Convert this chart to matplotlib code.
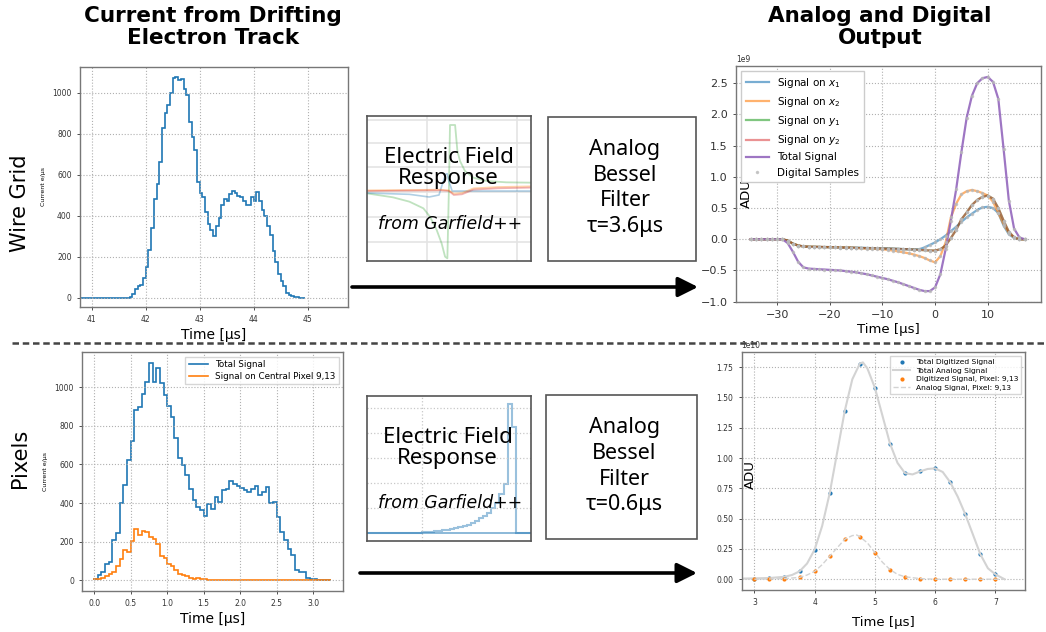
import numpy as np
import matplotlib.pyplot as plt
from matplotlib.patches import FancyArrowPatch, Rectangle
from matplotlib.lines import Line2D

W, H = 1046, 632

# ---- wire grid: current from the drifting electron track (0.05 us bins) ----
wire_start = 40.5
wire_t0 = 41.70
wire_bin = 0.05
wire_current = [0, 5, 20, 45, 55, 60, 95, 150, 235, 340, 480, 555, 660, 830, 900, 940,
                1000, 1070, 1075, 1060, 1065, 1020, 990, 855, 785, 720, 565, 510, 490,
                420, 360, 330, 300, 350, 390, 450, 480, 470, 505, 520, 510, 495, 490,
                470, 450, 450, 490, 470, 515, 470, 430, 400, 350, 305, 230, 175, 115,
                80, 55, 25, 15, 10, 5, 3, 1, 0]

# ---- pixels: current from the same track (0.05 us bins from t=0) ----
pix_bin = 0.05
pix_total = [5, 25, 45, 85, 95, 210, 245, 400, 495, 625,
             720, 880, 900, 965, 1025, 1125, 1025, 1100, 1020, 960,
             905, 845, 735, 635, 595, 545, 475, 415, 380, 365,
             335, 395, 370, 430, 405, 465, 470, 515, 500, 490,
             480, 465, 455, 475, 490, 440, 455, 485, 400, 405,
             330, 250, 210, 160, 130, 55, 45, 40, 10, 5,
             5, 3, 2, 1, 1]
pix_center = [5, 5, 10, 20, 30, 45, 75, 110, 155, 145,
              205, 265, 235, 255, 250, 225, 215, 190, 125, 115,
              85, 75, 55, 30, 25, 20, 10, 8, 10, 5,
              5, 3, 3, 2, 2, 2, 2, 2, 2, 2,
              1, 1, 1, 1, 1, 1, 1, 1, 1, 1,
              1, 1, 1, 1, 1, 1, 1, 1, 1, 1,
              1, 1, 1, 1, 1]

# ---- wire grid: shaped output, 1 us samples, units of 1e9 ADU ----
wire_times = list(range(-35, 18))
signal_x1 = [0, 0, 0, 0, 0, 0,
             0, -0.02, -0.07, -0.1, -0.115, -0.12, -0.12, -0.122, -0.124, -0.125,
             -0.127, -0.129, -0.131, -0.133, -0.135, -0.137, -0.139, -0.141, -0.143, -0.145,
             -0.148, -0.151, -0.154, -0.157, -0.16, -0.165, -0.16, -0.13, -0.09, -0.05,
             0.0, 0.06, 0.13, 0.2, 0.28, 0.35, 0.41, 0.47, 0.51, 0.52,
             0.5, 0.42, 0.22, 0.08, 0.02, 0.0, 0.0]
signal_x2 = [0, 0, 0, 0, 0, 0,
             0, -0.02, -0.07, -0.1, -0.115, -0.12, -0.12, -0.122, -0.124, -0.125,
             -0.127, -0.129, -0.131, -0.133, -0.14, -0.145, -0.148, -0.152, -0.156, -0.16,
             -0.17, -0.18, -0.195, -0.21, -0.225, -0.245, -0.27, -0.3, -0.34, -0.37,
             -0.27, -0.05, 0.35, 0.57, 0.72, 0.77, 0.79, 0.77, 0.74, 0.7,
             0.6, 0.42, 0.24, 0.1, 0.03, 0.0, 0.0]
signal_y1 = [0, 0, 0, 0, 0, 0,
             0, -0.02, -0.07, -0.1, -0.115, -0.12, -0.122, -0.124, -0.126, -0.128,
             -0.13, -0.132, -0.134, -0.136, -0.138, -0.14, -0.142, -0.144, -0.146, -0.148,
             -0.15, -0.152, -0.155, -0.158, -0.16, -0.165, -0.17, -0.175, -0.18, -0.18,
             -0.16, -0.1, 0.02, 0.15, 0.32, 0.43, 0.55, 0.63, 0.68, 0.7,
             0.65, 0.5, 0.3, 0.12, 0.03, 0.0, 0.0]
signal_y2 = list(signal_y1)
signal_total = [0, 0, 0, 0, 0, 0,
                0.0, -0.06, -0.2, -0.36, -0.45, -0.47, -0.475, -0.48, -0.485, -0.49,
                -0.495, -0.5, -0.51, -0.52, -0.53, -0.545, -0.56, -0.58, -0.6, -0.62,
                -0.64, -0.665, -0.69, -0.72, -0.75, -0.78, -0.81, -0.83, -0.83, -0.77,
                -0.56, -0.16, 0.3, 0.8, 1.4, 1.95, 2.3, 2.5, 2.58, 2.6,
                2.52, 2.25, 1.45, 0.62, 0.17, 0.03, 0.0]

# ---- pixels: shaped output, units of 1e10 ADU ----
dig_times = [3.0, 3.25, 3.5, 3.75, 4.0, 4.25, 4.5, 4.75, 5.0, 5.25,
             5.5, 5.75, 6.0, 6.25, 6.5, 6.75, 7.0]
dig_total = [0.005, 0.01, 0.02, 0.065, 0.245, 0.71, 1.39, 1.78, 1.58, 1.12,
             0.875, 0.89, 0.915, 0.80, 0.535, 0.205, 0.04]
dig_pixel = [0.0, 0.005, 0.005, 0.015, 0.065, 0.19, 0.33, 0.35, 0.22, 0.08,
             0.02, 0.005, 0.0, 0.0, 0.0, 0.0, 0.0]
ana_times = [2.8, 3.0, 3.25, 3.5, 3.625, 3.75, 3.875, 4.0, 4.125, 4.25, 4.375, 4.5,
             4.625, 4.75, 4.8, 4.875, 5.0, 5.125, 5.25, 5.375, 5.5, 5.625, 5.75,
             5.875, 6.0, 6.125, 6.25, 6.375, 6.5, 6.625, 6.75, 6.875, 7.0, 7.15]
ana_total = [0.005, 0.007, 0.01, 0.02, 0.035, 0.065, 0.13, 0.245, 0.44, 0.71, 1.05, 1.39,
             1.65, 1.78, 1.79, 1.74, 1.58, 1.35, 1.12, 0.96, 0.875, 0.865, 0.89,
             0.91, 0.915, 0.885, 0.80, 0.68, 0.535, 0.37, 0.205, 0.09, 0.04, 0.0]
ana_pix_times = [3.0, 3.5, 3.75, 3.875, 4.0, 4.125, 4.25, 4.375, 4.5, 4.625, 4.7,
                 4.75, 4.875, 5.0, 5.125, 5.25, 5.375, 5.5, 5.75, 6.0, 7.15]
ana_pixel = [0.0, 0.005, 0.015, 0.035, 0.065, 0.12, 0.19, 0.26, 0.33, 0.36, 0.365,
             0.35, 0.3, 0.22, 0.14, 0.08, 0.04, 0.02, 0.005, 0.0, 0.0]

# ---- field response sketches behind the Garfield++ boxes ----
wire_resp_t = [0, 16, 26, 34.5, 38.5, 42.6, 45.6, 47.7, 49.1, 50.0, 50.7, 53.8, 55.2,
               56.8, 59.8, 64.9, 73, 85, 100]
wire_resp_green = [-0.035, -0.095, -0.16, -0.26, -0.385, -0.585, -0.785, -0.985, -1.01,
                   0.0, 0.99, 0.99, 0.6, 0.45, 0.3, 0.2, 0.15, 0.13, 0.125]
wire_resp_t2 = [0, 26, 38, 44, 46, 48, 49, 50, 52, 60, 100]
wire_resp_blue = [-0.03, -0.05, -0.09, -0.06, 0.1, 0.25, 0.26, 0.15, 0.0, 0.0, 0.0]
wire_resp_t3 = [0, 45, 50, 53, 58, 65, 80, 100]
wire_resp_red = [0.0, 0.01, 0.0, -0.06, -0.05, 0.02, 0.04, 0.05]
wire_resp_orange = [0.01, 0.02, 0.01, -0.04, -0.03, 0.04, 0.06, 0.07]
pix_resp = [0, 0, 0, 0, 0, 0, 0, 0, 0, 0, 0, 0, 0, 0, 0.003, 0.005, 0.008, 0.01,
            0.013, 0.018, 0.023, 0.028, 0.035, 0.043, 0.052, 0.062, 0.075, 0.09,
            0.11, 0.13, 0.155, 0.19, 0.23, 0.3, 0.38, 1.0, 0.82, 0, 0, 0, 0, 0]

BLUE, ORANGE, GREEN, RED, PURPLE = '#1f77b4', '#ff7f0e', '#2ca02c', '#d62728', '#9467bd'


def px_axes(left, top, right, bottom):
    return fig.add_axes([left / W, 1 - bottom / H, (right - left) / W, (bottom - top) / H])


def style_small(ax, size):
    ax.grid(True, ls=':', color='#b0b0b0', lw=0.8)
    ax.tick_params(labelsize=size, colors='#333333', length=2.5, width=0.6)
    for s in ax.spines.values():
        s.set_color('#777777')
        s.set_linewidth(1.0)


fig = plt.figure(figsize=(W / 100, H / 100), dpi=100)

# titles and row labels
fig.text(213 / W, 1 - 27 / H, 'Current from Drifting\nElectron Track', ha='center', va='center',
         fontsize=15.5, fontweight='bold', linespacing=1.12)
fig.text(880 / W, 1 - 27 / H, 'Analog and Digital\nOutput', ha='center', va='center',
         fontsize=15.5, fontweight='bold', linespacing=1.12)
fig.text(20 / W, 1 - 203 / H, 'Wire Grid', rotation=90, ha='center', va='center', fontsize=15)
fig.text(20 / W, 1 - 458 / H, 'Pixels', rotation=90, ha='center', va='center', fontsize=15)

# wire grid current
ax1 = px_axes(80, 67, 348, 307)
edges = np.r_[wire_start, wire_t0 + wire_bin * np.arange(len(wire_current))]
ax1.stairs(wire_current, edges, color=BLUE, lw=1.2)
ax1.set_xlim(40.78, 45.75)
ax1.set_ylim(-45, 1125)
ax1.set_xticks([41, 42, 43, 44, 45])
style_small(ax1, 5.5)
ax1.set_xlabel('Time [μs]', fontsize=10, labelpad=3)
ax1.set_ylabel('Current e/μs', fontsize=4.5)
ax1.yaxis.set_label_coords(-0.125, 0.5)

# pixel current
ax3 = px_axes(82.3, 352.3, 343.3, 591)
pedges = pix_bin * np.arange(len(pix_total) + 1)
ax3.stairs(pix_total, pedges, color=BLUE, lw=1.2, label='Total Signal')
ax3.stairs(pix_center, pedges, color=ORANGE, lw=1.2, label='Signal on Central Pixel 9,13')
ax3.set_xlim(-0.1625, 3.4125)
ax3.set_ylim(-56, 1181)
ax3.set_xticks(np.arange(0, 3.01, 0.5))
style_small(ax3, 5.5)
ax3.set_xlabel('Time [μs]', fontsize=10, labelpad=3)
ax3.set_ylabel('Current e/μs', fontsize=4.5)
ax3.yaxis.set_label_coords(-0.13, 0.5)
ax3.legend(loc='upper right', fontsize=6.3, handlelength=2.2, borderpad=0.4,
           labelspacing=0.3, fancybox=False, edgecolor='#cccccc')

# wire grid analog / digital output
ax2 = px_axes(736, 65.7, 1040.7, 301.7)
sc = 1e9
ax2.plot(wire_times, np.array(signal_x1) * sc, color=BLUE, alpha=0.6, lw=1.6, label='Signal on $x_1$')
ax2.plot(wire_times, np.array(signal_x2) * sc, color=ORANGE, alpha=0.6, lw=1.6, label='Signal on $x_2$')
ax2.plot(wire_times, np.array(signal_y1) * sc, color=GREEN, alpha=0.6, lw=1.6, label='Signal on $y_1$')
ax2.plot(wire_times, np.array(signal_y2) * sc, color=RED, alpha=0.5, lw=1.6, label='Signal on $y_2$')
ax2.plot(wire_times, np.array(signal_total) * sc, color=PURPLE, alpha=0.9, lw=1.6, label='Total Signal')
for i, s in enumerate([signal_x1, signal_x2, signal_y1, signal_y2, signal_total]):
    ax2.plot(wire_times, np.array(s) * sc, '.', color='#b8b8b8', ms=3, alpha=0.7,
             label='Digital Samples' if i == 0 else None)
ax2.set_xlim(-37.8, 20.05)
ax2.set_ylim(-1.0e9, 2.78e9)
ax2.set_yticks(np.arange(-1.0, 2.51, 0.5) * sc)
ax2.set_xticks([-30, -20, -10, 0, 10])
style_small(ax2, 8)
ax2.yaxis.get_offset_text().set_fontsize(5.5)
ax2.set_xlabel('Time [μs]', fontsize=9.5, labelpad=2)
ax2.set_ylabel('ADU', fontsize=9.5)
ax2.yaxis.set_label_coords(0.055, 0.46)
ax2.legend(loc='upper left', fontsize=7.5, borderpad=0.45, labelspacing=0.5,
           handlelength=2.2, fancybox=False, edgecolor='#cccccc', framealpha=1)

# pixel analog / digital output
ax4 = px_axes(741.7, 352.3, 1025, 590)
sc = 1e10
ax4.plot(dig_times, np.array(dig_total) * sc, '.', color=BLUE, ms=4, label='Total Digitized Signal')
ax4.plot(ana_times, np.array(ana_total) * sc, color='#d3d3d3', lw=1.5, label='Total Analog Signal')
ax4.plot(dig_times, np.array(dig_pixel) * sc, '.', color=ORANGE, ms=4, label='Digitized Signal, Pixel: 9,13')
ax4.plot(ana_pix_times, np.array(ana_pixel) * sc, '--', color='#d3d3d3', lw=1.0,
         label='Analog Signal, Pixel: 9,13')
ax4.set_xlim(2.79, 7.49)
ax4.set_ylim(-0.089e10, 1.873e10)
ax4.set_xticks([3, 4, 5, 6, 7])
ax4.set_yticks(np.arange(0, 1.76, 0.25) * sc)
style_small(ax4, 5.5)
ax4.yaxis.get_offset_text().set_fontsize(5.5)
ax4.set_xlabel('Time [μs]', fontsize=9.5, labelpad=6)
ax4.set_ylabel('ADU', fontsize=9.5)
ax4.yaxis.set_label_coords(0.055, 0.484)
ax4.legend(loc='upper right', fontsize=5.4, borderpad=0.4, labelspacing=0.3,
           handlelength=2.2, fancybox=False, edgecolor='#cccccc', framealpha=0.8)

# field response boxes
box_font = ['Noto Sans', 'DejaVu Sans']

axr1 = px_axes(366.7, 116, 531, 261)
axr1.plot(wire_resp_t, wire_resp_green, color=GREEN, alpha=0.3, lw=1.3)
axr1.plot(wire_resp_t2, wire_resp_blue, color=BLUE, alpha=0.35, lw=1.2)
axr1.plot(wire_resp_t3, wire_resp_orange, color=ORANGE, alpha=0.35, lw=1.2)
axr1.plot(wire_resp_t3, wire_resp_red, color=RED, alpha=0.35, lw=1.2)
axr1.set_xlim(0, 100)
axr1.set_ylim(-1.05, 1.125)
axr1.set_xticks([36.5, 91.3])
axr1.set_yticks([-0.76, -0.385, -0.01, 0.365, 0.715, 1.065])
axr1.grid(True, color='#e4e4e4', lw=1.2)

axr2 = px_axes(366.7, 396, 531, 541)
redges = np.arange(-1, len(pix_resp))
axr2.stairs(pix_resp, redges, color=BLUE, alpha=0.45, lw=1.5)
axr2.axhline(0, color=BLUE, alpha=0.6, lw=1.2)
axr2.set_xlim(-0.39, 39.7)
axr2.set_ylim(-0.065, 1.062)
axr2.set_xticks([13.0])
axr2.set_yticks([0.19, 0.385, 0.58, 0.775, 0.97])
axr2.grid(True, ls=':', color='#c8c8c8', lw=0.9)

for ax in (axr1, axr2):
    ax.tick_params(length=0, labelbottom=False, labelleft=False)
    for s in ax.spines.values():
        s.set_color('#555555')
        s.set_linewidth(1.2)

fig.text(448.5 / W, 1 - 168 / H, 'Electric Field\nResponse', ha='center', va='center',
         fontsize=16, family=box_font, linespacing=1.05)
fig.text(450 / W, 1 - 224 / H, 'from Garfield++', ha='center', va='center',
         fontsize=12.5, style='italic')
fig.text(447.5 / W, 1 - 448 / H, 'Electric Field\nResponse', ha='center', va='center',
         fontsize=16, family=box_font, linespacing=1.05)
fig.text(450 / W, 1 - 502.5 / H, 'from Garfield++', ha='center', va='center',
         fontsize=12.5, style='italic')

# Bessel filter boxes
for (l, t, r, b), tau in [((548, 117, 696, 261), '3.6'), ((545.7, 395, 697, 539.3), '0.6')]:
    fig.add_artist(Rectangle((l / W, 1 - b / H), (r - l) / W, (b - t) / H,
                             transform=fig.transFigure, fill=False, ec='#555555', lw=1.2))
    fig.text((l + r) / 2 / W + 3 / W, 1 - ((t + b) / 2 - 1) / H,
             'Analog\nBessel\nFilter\nτ=' + tau + 'μs', ha='center', va='center',
             fontsize=15.5, family=box_font, linespacing=1.3)

# signal-chain arrows
for x0, x1, y in [(352, 698, 287), (360, 697, 573)]:
    fig.add_artist(FancyArrowPatch((x0 / W, 1 - y / H), (x1 / W, 1 - y / H),
                                   transform=fig.transFigure, color='black', lw=2.6,
                                   arrowstyle='-|>,head_length=0.6,head_width=0.3',
                                   mutation_scale=20, shrinkA=0, shrinkB=0))

# divider between wire and pixel rows
fig.add_artist(Line2D([12 / W, 1.0], [1 - 342.5 / H] * 2, transform=fig.transFigure,
                      color='#444444', lw=1.8, ls=(0, (2.6, 1.5))))

fig.savefig('out.png', dpi=100)
